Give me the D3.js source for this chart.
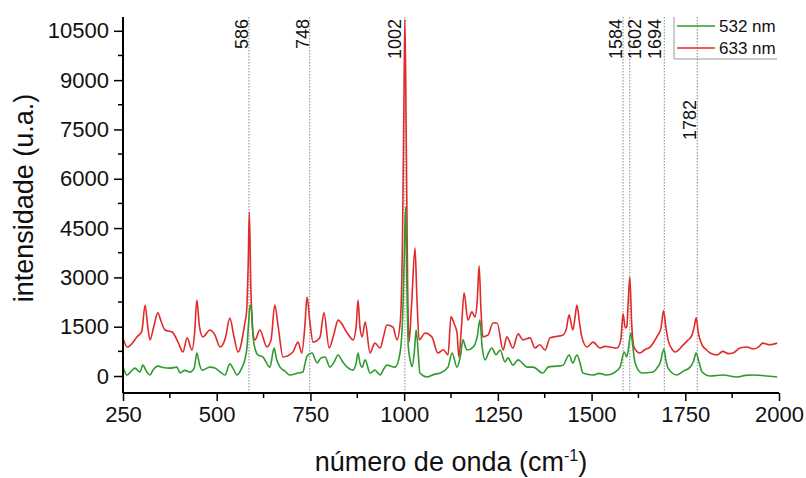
<!DOCTYPE html>
<html><head><meta charset="utf-8">
<script src="https://cdn.jsdelivr.net/npm/d3@7"></script>
<style>
html,body{margin:0;padding:0;background:#fff;}
svg{display:block;font-family:"Liberation Sans",Arial,sans-serif;}
</style></head>
<body><svg id="c" width="806" height="478"></svg>
<script>
// ---- data ----
const seriesNames = ["532 nm", "633 nm"];
const seriesColors = ["#2f9a2f", "#e02a2a"];
const xTicks = [250, 500, 750, 1000, 1250, 1500, 1750, 2000];
const yTicks = [0, 1500, 3000, 4500, 6000, 7500, 9000, 10500];
const peakLabels = [586, 748, 1002, 1584, 1602, 1694, 1782];

const waveRed = [250,261,275,287,300,309,316,322,332,343,352,362,381,397,410,421,434,441,447,454,463,482,495,509,523,535,546,557,575,580,584,587,591,596,602,615,634,645,655,664,677,703,717,727,735,741,748,757,775,786,800,812,824,848,864,872,877,882,888,896,909,922,936,945,954,970,981,990,996,1000,1002,1005,1009,1013,1020,1029,1034,1040,1056,1074,1090,1105,1117,1125,1133,1141,1146,1153,1160,1170,1181,1189,1195,1200,1205,1210,1224,1237,1248,1264,1274,1290,1304,1317,1336,1349,1362,1376,1389,1405,1424,1433,1440,1450,1456,1461,1468,1474,1488,1504,1522,1535,1549,1568,1578,1584,1590,1594,1598,1602,1607,1613,1629,1642,1656,1667,1677,1685,1692,1698,1704,1713,1723,1744,1758,1768,1774,1779,1785,1795,1806,1816,1835,1850,1865,1877,1896,1915,1931,1945,1957,1975,1995];
const intRed  = [1156,880,1000,1190,1350,2160,1500,1100,1500,1920,1650,1400,1340,1030,730,1160,790,1300,2310,1500,1190,1400,1250,880,1150,1760,1200,730,1610,2000,3400,4990,2700,1400,1100,1400,880,1100,2160,1500,580,730,1030,700,1500,2400,1700,1030,1160,1920,850,1250,1700,1310,1100,1500,2310,1500,1190,1640,700,1000,850,1200,1550,1490,1100,1700,4500,9000,10850,8000,3000,1030,2200,3890,2400,1100,1310,1190,700,800,640,1800,1600,1310,580,1500,2530,1700,1950,1800,2300,3350,2000,1190,1250,1610,1610,790,1190,850,1280,1100,1160,850,950,790,1160,1200,1250,1450,1860,1400,1800,2160,1600,1190,880,1030,850,900,880,850,1100,1890,1460,1500,2300,3010,1600,880,700,800,880,1050,1250,1450,1980,1500,1100,850,730,940,1100,1250,1500,1770,1300,940,800,700,640,750,680,700,850,880,820,880,1000,950,1000];

const waveGreen = [250,261,272,282,295,303,312,322,330,343,360,375,394,402,415,429,440,447,454,461,482,495,510,522,535,545,554,565,575,581,585,589,593,597,603,610,623,642,653,660,669,682,695,717,730,736,741,754,768,778,789,802,812,824,835,848,864,872,877,882,888,896,909,922,936,945,954,976,989,996,1000,1004,1007,1011,1016,1021,1027,1032,1037,1042,1061,1080,1096,1117,1128,1141,1150,1157,1163,1168,1184,1195,1202,1208,1216,1225,1234,1245,1256,1269,1277,1290,1304,1315,1328,1344,1370,1384,1405,1424,1440,1450,1461,1468,1477,1504,1520,1541,1560,1576,1587,1594,1605,1610,1616,1634,1664,1675,1683,1693,1698,1704,1728,1745,1763,1772,1779,1786,1795,1816,1850,1888,1910,1931,1960,1995];
const intGreen  = [270,30,150,240,120,330,150,30,180,300,250,240,270,90,170,120,250,700,350,180,270,240,120,30,370,200,30,200,490,900,1600,2160,2000,1190,800,640,580,270,850,500,270,150,30,90,120,400,610,700,400,550,580,270,400,640,450,270,180,400,700,400,270,490,90,180,30,200,330,270,700,1800,3500,5140,3000,900,490,280,700,1400,800,90,-30,50,90,270,700,270,600,1100,900,790,880,1200,1700,900,490,700,850,650,790,430,550,330,490,400,270,270,90,270,300,330,640,400,640,450,90,30,80,30,100,270,730,580,1310,900,400,90,120,250,400,820,500,240,30,150,270,450,700,450,120,0,30,-30,20,30,10,-30];

// ---- layout ----
const svg = d3.select("#c");
const pL = 123, pR = 779, pT = 17, pB = 393;
const x = d3.scaleLinear().domain([250, 2000]).range([pL, pR]);
const y = d3.scaleLinear().domain([-517, 10920]).range([pB, pT]);

// dotted reference lines
svg.append("g").selectAll("line").data(peakLabels).join("line")
  .attr("x1", d => x(d)).attr("x2", d => x(d))
  .attr("y1", pT).attr("y2", pB)
  .attr("stroke", "#888").attr("stroke-width", 1).attr("stroke-dasharray", "1.5,1.5");

// series
const line = d3.line().curve(d3.curveMonotoneX).x(d => x(d[0])).y(d => y(d[1]));
const sets = [d3.zip(waveGreen, intGreen), d3.zip(waveRed, intRed)];
[1, 0].forEach(i => {
  svg.append("path").datum(sets[i]).attr("d", line)
    .attr("fill", "none").attr("stroke", seriesColors[i]).attr("stroke-width", 1.6)
    .attr("stroke-linejoin", "round");
});

// peak labels
const labelPos = {586: [-1, pT + 2], 748: [-1, pT + 2], 1002: [-4, pT + 2], 1584: [-1, pT + 2],
  1602: [11, pT + 2], 1694: [-3, pT + 2], 1782: [-1, 100]};
svg.append("g").selectAll("text").data(peakLabels).join("text")
  .attr("transform", d => `translate(${x(d) + labelPos[d][0]},${labelPos[d][1]}) rotate(-90)`)
  .attr("text-anchor", "end").attr("font-size", 18).attr("fill", "#111")
  .text(d => d);

// axes
const xAxis = d3.axisBottom(x).tickValues(xTicks).tickSize(8).tickPadding(5).tickFormat(d3.format("d"));
const gx = svg.append("g").attr("transform", `translate(0,${pB})`).call(xAxis);
const yAxis = d3.axisLeft(y).tickValues(yTicks).tickSize(9).tickPadding(5).tickFormat(d3.format("d"));
const gy = svg.append("g").attr("transform", `translate(${pL},0)`).call(yAxis);
// minor ticks
svg.append("g").selectAll("line").data(d3.range(375, 2000, 250)).join("line")
  .attr("x1", d => x(d)).attr("x2", d => x(d)).attr("y1", pB).attr("y2", pB + 5)
  .attr("stroke", "#000").attr("stroke-width", 1.5);
svg.append("g").selectAll("line").data(d3.range(750, 10500, 1500)).join("line")
  .attr("y1", d => y(d)).attr("y2", d => y(d)).attr("x1", pL).attr("x2", pL - 5)
  .attr("stroke", "#000").attr("stroke-width", 1.5);
[gx, gy].forEach(g => {
  g.select(".domain").attr("stroke", "#000").attr("stroke-width", 2);
  g.selectAll(".tick line").attr("stroke", "#000").attr("stroke-width", 1.5);
  g.selectAll(".tick text").attr("font-size", 22).attr("fill", "#111")
    .attr("font-family", "'Liberation Sans', Arial, sans-serif");
});
gx.select(".domain").attr("d", `M${pL},0H${pR}`);
gy.select(".domain").attr("d", `M0,${pB}V${pT}`);

// axis titles
svg.append("text").attr("transform", `translate(33,198) rotate(-90)`)
  .attr("text-anchor", "middle").attr("font-size", 27).attr("fill", "#111")
  .text("intensidade (u.a.)");
const xt = svg.append("text").attr("x", 451).attr("y", 471).attr("text-anchor", "middle")
  .attr("font-size", 27).attr("fill", "#111");
xt.append("tspan").text("número de onda (cm");
xt.append("tspan").attr("dy", -10).attr("font-size", 16).text("-1");
xt.append("tspan").attr("dy", 10).text(")");

// legend
const lg = svg.append("g");
lg.append("path").attr("d", `M674,17V59H777`).attr("fill", "none").attr("stroke", "#999").attr("stroke-width", 1);
seriesNames.forEach((n, i) => {
  const yy = 26 + i * 22;
  lg.append("line").attr("x1", 677).attr("x2", 715).attr("y1", yy).attr("y2", yy)
    .attr("stroke", seriesColors[i]).attr("stroke-width", 1.6);
  lg.append("text").attr("x", 719).attr("y", yy + 6).attr("font-size", 17).attr("fill", "#111").text(n);
});
</script></body></html>
